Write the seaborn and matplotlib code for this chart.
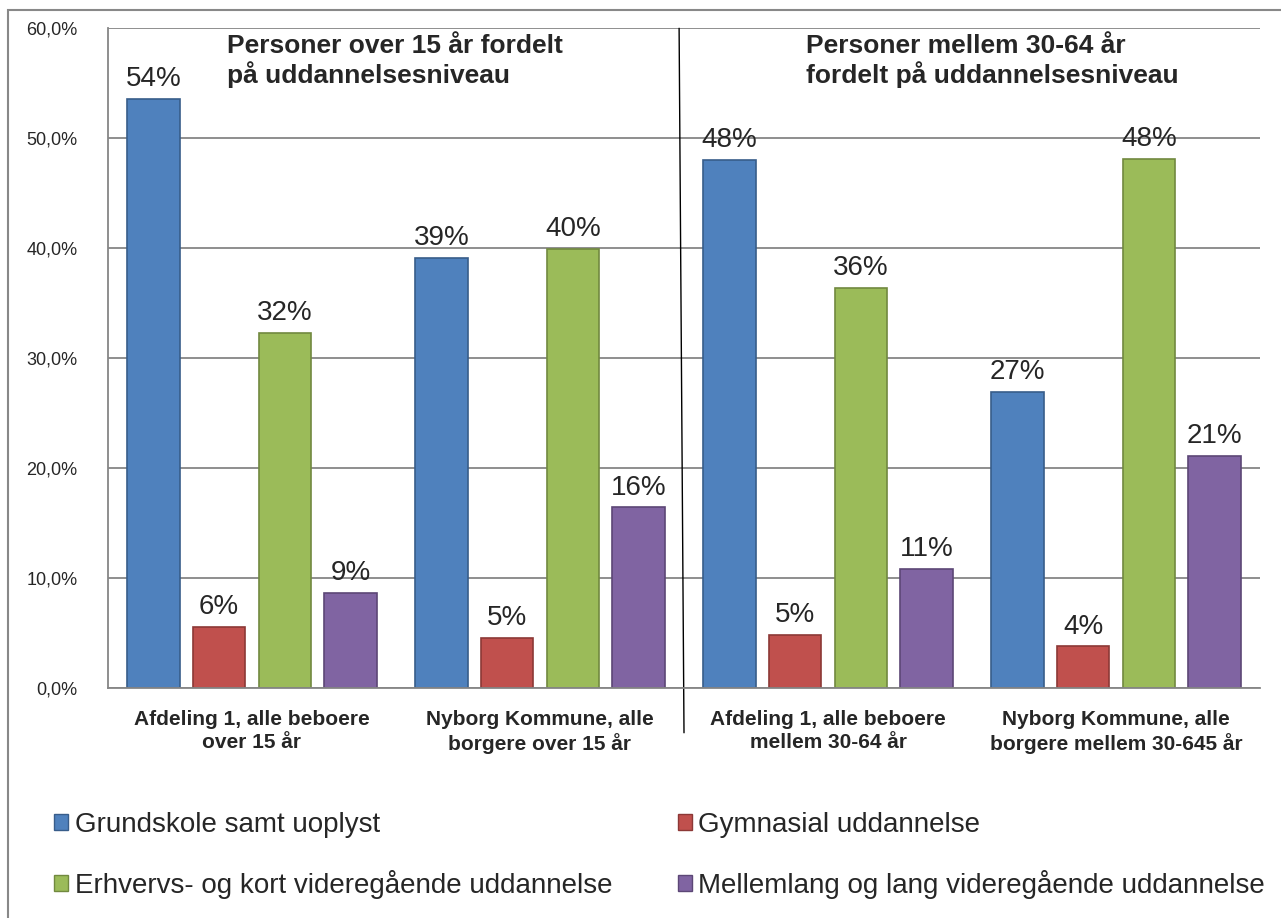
import pandas as pd
import seaborn as sns
import matplotlib.pyplot as plt
from matplotlib.patches import Patch, Rectangle
from matplotlib.ticker import FuncFormatter, MultipleLocator

# data (procent)
kategorier = ["Afdeling 1, alle beboere\nover 15 år",
              "Nyborg Kommune, alle\nborgere over 15 år",
              "Afdeling 1, alle beboere\nmellem 30-64 år",
              "Nyborg Kommune, alle\nborgere mellem 30-645 år"]
niveauer = ["Grundskole samt uoplyst",
            "Gymnasial uddannelse",
            "Erhvervs- og kort videregående uddannelse",
            "Mellemlang og lang videregående uddannelse"]
grundskole = [53.6, 39.1, 48.0, 26.9]
gymnasial = [5.55, 4.55, 4.8, 3.75]
erhverv = [32.3, 39.9, 36.4, 48.1]
mellemlang = [8.6, 16.4, 10.8, 21.1]
overskrifter = ["Personer over 15 år fordelt\npå uddannelsesniveau",
                "Personer mellem 30-64 år\nfordelt på uddannelsesniveau"]

farver = ["#4F81BD", "#C0504D", "#9BBB59", "#8064A2"]
kanter = ["#385D8A", "#8C3836", "#71893F", "#5C4776"]

# long format til seaborn
rows = []
for niveau, vals in zip(niveauer, [grundskole, gymnasial, erhverv, mellemlang]):
    for kat, v in zip(kategorier, vals):
        rows.append({"kategori": kat, "niveau": niveau, "andel": v})
df = pd.DataFrame(rows)

sns.set_style("white")
plt.rcParams['font.family'] = ['Liberation Sans', 'DejaVu Sans']

W, H = 1281, 918
fig = plt.figure(figsize=(W / 100, H / 100), dpi=100)
ax = fig.add_axes([108 / W, 1 - 687.7 / H, (1260 - 108) / W, (687.7 - 28.3) / H])

sns.barplot(data=df, x="kategori", y="andel", hue="niveau", order=kategorier,
            hue_order=niveauer, palette=farver, saturation=1, errorbar=None,
            width=0.913, gap=0.2, legend=False, ax=ax)

for cont, kant, vals in zip(ax.containers, kanter, [grundskole, gymnasial, erhverv, mellemlang]):
    for p in cont:
        p.set_edgecolor(kant)
        p.set_linewidth(1.2)
    ax.bar_label(cont, labels=[f"{v:.0f}%" for v in vals], padding=5, fontsize=20)

# skillelinje mellem de to aldersgrupper
ax.plot([1.483, 1.5], [60, -4.1], color="black", lw=1, clip_on=False)

ax.set_xlim(-0.5, 3.5)
ax.set_ylim(0, 60)
ax.yaxis.set_major_locator(MultipleLocator(10))
ax.yaxis.set_major_formatter(FuncFormatter(lambda v, _: f"{v:.1f}%".replace(".", ",")))
ax.yaxis.grid(True, color="#868686", lw=1.3)
ax.set_axisbelow(True)
ax.set_xlabel("")
ax.set_ylabel("")
for s in ["top", "right"]:
    ax.spines[s].set_visible(False)
for s in ["left", "bottom"]:
    ax.spines[s].set_color("#868686")
    ax.spines[s].set_linewidth(1.3)
ax.tick_params(axis="y", labelsize=13, length=0, pad=22)
ax.tick_params(axis="x", labelsize=15, length=0, pad=16)
for t in ax.get_xticklabels():
    t.set_fontweight("bold")
    t.set_linespacing(1.25)

ax.text(0.103, 0.992, overskrifter[0], transform=ax.transAxes, fontsize=19,
        fontweight="bold", va="top", ha="left", linespacing=1.15)
ax.text(0.606, 0.992, overskrifter[1], transform=ax.transAxes, fontsize=19,
        fontweight="bold", va="top", ha="left", linespacing=1.15)

# legend, kolonnevis: blå/grøn, rød/lilla
handles = [Patch(facecolor=f, edgecolor=k, lw=1) for f, k in zip(farver, kanter)]
order = [0, 2, 1, 3]
fig.legend([handles[i] for i in order], [niveauer[i] for i in order], ncol=2,
           loc="upper left", bbox_to_anchor=(54 / W, 1 - 812 / H), frameon=False,
           fontsize=20, handlelength=0.5, handleheight=0.5, handletextpad=0.25,
           columnspacing=2.35, labelspacing=1.15, borderpad=0, borderaxespad=0)

# ramme rundt om diagrammet
fig.add_artist(Rectangle((8 / W, -0.01), 1.02, (H - 10) / H + 0.01,
                         transform=fig.transFigure, fill=False, ec="#888888", lw=1.5))

fig.savefig("out.png", dpi=100)
